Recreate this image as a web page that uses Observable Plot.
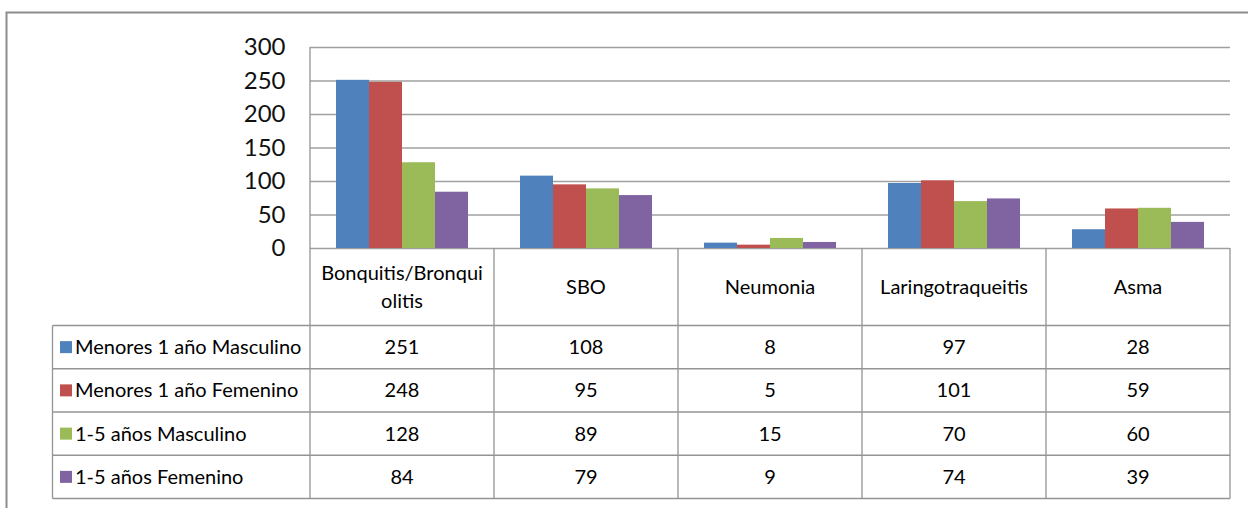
<!DOCTYPE html>
<html><head><meta charset="utf-8">
<script src="https://cdn.jsdelivr.net/npm/d3@7"></script>
<script src="https://cdn.jsdelivr.net/npm/@observablehq/plot@0.6"></script>
<style>
html,body{margin:0;padding:0;background:#fff;}
#chart{width:1248px;height:508px;overflow:hidden;}
</style></head><body><div id="chart"></div>
<script>
// Respiratory diagnoses by age group and sex
const categories = ["Bonquitis/Bronquiolitis", "SBO", "Neumonia", "Laringotraqueitis", "Asma"];
const seriesNames = ["Menores 1 año Masculino", "Menores 1 año Femenino", "1-5 años Masculino", "1-5 años Femenino"];
const seriesColors = ["#4F81BD", "#C0504D", "#9BBB59", "#8064A2"];
const menores1Masculino = [251, 108, 8, 97, 28];
const menores1Femenino = [248, 95, 5, 101, 59];
const anos15Masculino = [128, 89, 15, 70, 60];
const anos15Femenino = [84, 79, 9, 74, 39];
const yTicks = [0, 50, 100, 150, 200, 250, 300];

const seriesValues = [menores1Masculino, menores1Femenino, anos15Masculino, anos15Femenino];
const rows = seriesNames.flatMap((s, i) =>
  categories.map((c, j) => ({category: c, series: s, value: seriesValues[i][j]})));

const W = 1248, H = 508;
const font = "Lato, 'Open Sans', sans-serif";
const fontSize = 20;
const gridColor = "#a0a0a0";
const tableLine = "#949494";

const chart = Plot.plot({
  width: W, height: H,
  marginTop: 47, marginBottom: H - 248, marginLeft: 308, marginRight: W - 1232,
  style: {fontFamily: font, background: "#fff", color: "#000", overflow: "visible"},
  fx: {domain: categories, padding: 0, axis: null},
  x: {domain: seriesNames, paddingInner: 0, paddingOuter: 0.78, axis: null},
  y: {domain: [0, 300], axis: null},
  color: {domain: seriesNames, range: seriesColors},
  marks: [
    Plot.ruleY(yTicks, {stroke: gridColor, strokeWidth: 1.5}),
    Plot.barY(rows, {fx: "category", x: "series", y: "value", fill: "series"}),
    Plot.axisY(yTicks, {anchor: "left", tickSize: 0, tickPadding: 25, fontSize: 24, label: null, fill: "#111"})
  ]
});

// Data table under the chart, aligned with the facet columns
const svg = d3.select(chart);
const fx = chart.scale("fx");
const y = chart.scale("y");
const bw = fx.bandwidth;
const colLeft = c => fx.apply(c);
const plotLeft = colLeft(categories[0]);
const plotRight = colLeft(categories[categories.length - 1]) + bw;
const yTop = y.apply(300), yZero = y.apply(0);
const headerBottom = 325.5, tableBottom = 498.5, tableLeft = 52.5;
const rowH = (tableBottom - headerBottom) / seriesNames.length;

const g = svg.append("g").attr("font-family", font).attr("font-size", fontSize).attr("fill", "#000");
const lines = g.append("g").attr("stroke", tableLine).attr("stroke-width", 1.3).attr("fill", "none");
// left edge of the plot area + column separators
lines.append("line").attr("x1", plotLeft).attr("x2", plotLeft).attr("y1", yTop).attr("y2", tableBottom);
categories.forEach(c => {
  const x = colLeft(c) + bw;
  lines.append("line").attr("x1", x).attr("x2", x).attr("y1", yZero).attr("y2", tableBottom);
});
lines.append("line").attr("x1", tableLeft).attr("x2", tableLeft).attr("y1", headerBottom).attr("y2", tableBottom);
for (let r = 0; r <= seriesNames.length; r++) {
  const yy = headerBottom + r * rowH;
  lines.append("line").attr("x1", tableLeft).attr("x2", plotRight).attr("y1", yy).attr("y2", yy);
}

// header labels, wrapped by character like a spreadsheet cell
const ctx = document.createElement("canvas").getContext("2d");
ctx.font = `${fontSize}px ${font}`;
function wrap(label, maxW) {
  const out = []; let cur = "";
  for (const ch of label) {
    if (cur && ctx.measureText(cur + ch).width > maxW) { out.push(cur); cur = ch; }
    else cur += ch;
  }
  out.push(cur);
  return out;
}
const headerMid = (yZero + headerBottom) / 2;
categories.forEach(c => {
  const ls = wrap(c, bw - 17);
  const lh = 28;
  const cx = colLeft(c) + bw / 2;
  const t = g.append("text").attr("text-anchor", "middle").attr("x", cx);
  ls.forEach((l, k) => {
    t.append("tspan").attr("x", cx)
      .attr("y", headerMid + (k - (ls.length - 1) / 2) * lh)
      .attr("dy", "0.35em").text(l);
  });
});

// series rows: swatch, name, values
seriesNames.forEach((s, i) => {
  const cy = headerBottom + (i + 0.5) * rowH;
  g.append("rect").attr("x", 60).attr("y", cy - 6).attr("width", 12).attr("height", 12).attr("fill", seriesColors[i]);
  g.append("text").attr("text-anchor", "start").attr("x", 75).attr("y", cy).attr("dy", "0.35em").text(s);
  categories.forEach((c, j) => {
    g.append("text").attr("text-anchor", "middle").attr("x", colLeft(c) + bw / 2)
      .attr("y", cy).attr("dy", "0.35em").text(seriesValues[i][j]);
  });
});

// chart area border
svg.append("path").attr("d", `M6.5,${H} V12.5 H${W}`).attr("fill", "none")
  .attr("stroke", "#8c8c8c").attr("stroke-width", 2);

document.getElementById("chart").appendChild(chart);
</script>
</body></html>
